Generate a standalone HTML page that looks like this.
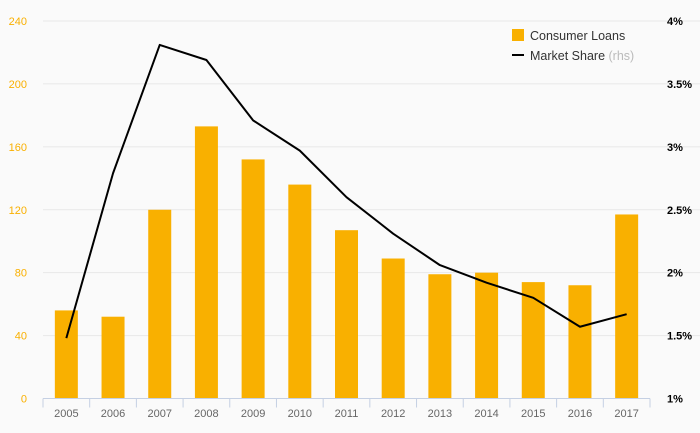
<!DOCTYPE html>
<html><head><meta charset="utf-8"><style>
body{margin:0;background:#fafafa;font-family:"Liberation Sans","DejaVu Sans",sans-serif}
svg{display:block}
</style></head><body>
<svg id="c" width="700" height="433">
<rect width="700" height="433" fill="#fafafa"/>
<g id="grid"></g><g id="bars"></g><g id="line"></g><g id="axes"></g>
<g>
<rect x="512" y="29" width="12" height="12" fill="#f9b000"/>
<text x="530" y="40" font-size="12.5" fill="#333">Consumer Loans</text>
<line x1="512" y1="55" x2="524" y2="55" stroke="#000" stroke-width="2"/>
<text x="530" y="60" font-size="12.5" fill="#333">Market Share <tspan fill="#bbb">(rhs)</tspan></text>
</g>
</svg>
<script>
const categories=["2005","2006","2007","2008","2009","2010","2011","2012","2013","2014","2015","2016","2017"];
const loans=[56,52,120,173,152,136,107,89,79,80,74,72,117];
const share=[1.48,2.79,3.81,3.69,3.21,2.97,2.6,2.31,2.06,1.92,1.8,1.57,1.67];
const leftTicks=[0,40,80,120,160,200,240];
const rightTicks=[1,1.5,2,2.5,3,3.5,4];
const rightLabels=["1%","1.5%","2%","2.5%","3%","3.5%","4%"];
const NS="http://www.w3.org/2000/svg";
const x0=43,x1=650,yB=398.5,yT=21;
const step=(x1-x0)/categories.length;
const xc=i=>x0+step*(i+0.5);
const yL=v=>yB-(v/240)*(yB-yT);
const yR=v=>yB-((v-1)/3)*(yB-yT);
function mk(tag,attrs,parent){const e=document.createElementNS(NS,tag);for(const k in attrs)e.setAttribute(k,attrs[k]);document.getElementById(parent).appendChild(e);return e;}
leftTicks.forEach((t,i)=>{
 if(t>0){const g=mk("line",{x1:x0,x2:700,y1:yL(t),y2:yL(t),stroke:"#e8e8e8","stroke-width":1},"grid");
 
 }
 const l=mk("text",{x:27,y:yL(t)+4,"font-size":11,fill:"#f9b000","text-anchor":"end"},"axes");l.textContent=t;
 
 
});
rightTicks.forEach((t,i)=>{
 const l=mk("text",{x:667,y:yR(t)+4,"font-size":11,fill:"#000","font-weight":"bold"},"axes");l.textContent=rightLabels[i];
 
 
});
loans.forEach((v,i)=>{
 const r=mk("rect",{x:xc(i)-11.5,y:yL(v),width:23,height:yB-yL(v),fill:"#f9b000"},"bars");
 
 
});
const p=mk("polyline",{points:share.map((v,i)=>xc(i)+","+yR(v)).join(" "),fill:"none",stroke:"#000","stroke-width":2,"stroke-linejoin":"round"},"line");


const ax=mk("line",{x1:x0,x2:x1,y1:yB,y2:yB,stroke:"#c5d0e3","stroke-width":1},"axes");


for(let i=0;i<=categories.length;i++){
 const tk=mk("line",{x1:x0+step*i,x2:x0+step*i,y1:yB,y2:yB+9,stroke:"#c5d0e3","stroke-width":1},"axes");
 
 
}
categories.forEach((c,i)=>{
 const l=mk("text",{x:xc(i),y:417,"font-size":11,fill:"#666","text-anchor":"middle"},"axes");l.textContent=c;
 
 
});
</script>
</body></html>
